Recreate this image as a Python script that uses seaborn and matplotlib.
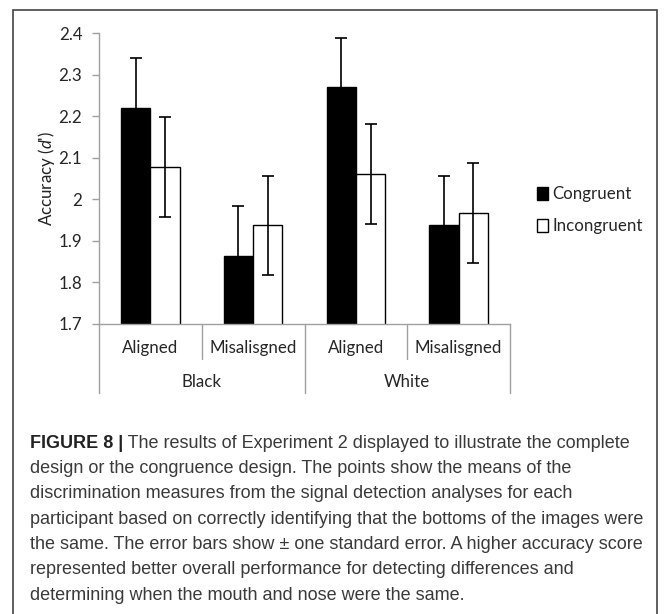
import pandas as pd
import numpy as np
import matplotlib
matplotlib.use("Agg")
import matplotlib.pyplot as plt
import seaborn as sns
from matplotlib.patches import Rectangle, Patch

# datos
grupos = ["Black", "Black", "White", "White"]
alineacion = ["Aligned", "Misalisgned", "Aligned", "Misalisgned"]
congruente = [2.219, 1.864, 2.269, 1.937]
incongruente = [2.077, 1.937, 2.061, 1.967]
err_congruente = [0.12, 0.12, 0.12, 0.12]
err_incongruente = [0.12, 0.12, 0.12, 0.12]
yticks = [1.7, 1.8, 1.9, 2.0, 2.1, 2.2, 2.3, 2.4]
ytick_labels = ["1.7", "1.8", "1.9", "2", "2.1", "2.2", "2.3", "2.4"]
condiciones = ["Congruent", "Incongruent"]

caption_bold = "FIGURE 8 |"
caption_lines = [
    " The results of Experiment 2 displayed to illustrate the complete",
    "design or the congruence design. The points show the means of the",
    "discrimination measures from the signal detection analyses for each",
    "participant based on correctly identifying that the bottoms of the images were",
    "the same. The error bars show \u00b1 one standard error. A higher accuracy score",
    "represented better overall performance for detecting differences and",
    "determining when the mouth and nose were the same.",
]

sns.set_style("white")
plt.rcParams['font.family'] = ['Lato', 'DejaVu Sans']
plt.rcParams['mathtext.fontset'] = 'custom'
plt.rcParams['mathtext.it'] = 'Lato:italic'
plt.rcParams['mathtext.rm'] = 'Lato'

fs = 12.2

celdas = [g + " " + a for g, a in zip(grupos, alineacion)]
df = pd.DataFrame({
    "celda": celdas * 2,
    "condicion": ["Congruent"] * 4 + ["Incongruent"] * 4,
    "valor": congruente + incongruente,
})

fig = plt.figure(figsize=(6.7, 6.14), dpi=100)
ax = fig.add_axes([99 / 670, 1 - 324 / 614, (510 - 99) / 670, (324 - 33) / 614])

sns.barplot(data=df, x="celda", y="valor", hue="condicion", order=celdas,
            hue_order=condiciones, palette={"Congruent": "black", "Incongruent": "white"},
            edgecolor="black", linewidth=1, width=0.57, errorbar=None, ax=ax, legend=False)

# barras de error
for cont, errs in zip(ax.containers, [err_congruente, err_incongruente]):
    xs = [p.get_x() + p.get_width() / 2 for p in cont]
    ys = [p.get_height() for p in cont]
    ax.errorbar(xs, ys, yerr=errs, fmt="none", ecolor="black", elinewidth=1.2,
                capsize=4, capthick=1.2)

ax.set_ylim(1.7, 2.4)
ax.set_xlim(-0.5, 3.5)
ax.set_yticks(yticks)
ax.set_yticklabels(ytick_labels, fontsize=fs)
ax.set_xticks([])
ax.set_xlabel("")
ax.set_ylabel(r"Accuracy ($d$')", fontsize=fs, color="#222222", labelpad=1)
ax.tick_params(axis="y", length=5, color="#a0a0a0", width=1, direction="out", pad=7, left=True)
for s in ["top", "right"]:
    ax.spines[s].set_visible(False)
for s in ["left", "bottom"]:
    ax.spines[s].set_color("#a0a0a0")
    ax.spines[s].set_linewidth(1)

# eje x jerarquico
tr = ax.get_xaxis_transform()
for i, lab in enumerate(alineacion):
    ax.text(i, -0.082, lab, transform=tr, ha="center", va="center", fontsize=fs)
for xb in [0.5, 2.5]:
    ax.plot([xb, xb], [0, -0.12], transform=tr, color="#a0a0a0", lw=1, clip_on=False)
for xb in [-0.5, 1.5, 3.5]:
    ax.plot([xb, xb], [0, -0.237], transform=tr, color="#a0a0a0", lw=1, clip_on=False)
for k, g in enumerate(["Black", "White"]):
    ax.text(2 * k + 0.5, -0.20, g, transform=tr, ha="center", va="center", fontsize=fs)

handles = [Patch(facecolor="black", edgecolor="black"),
           Patch(facecolor="white", edgecolor="black")]
fig.legend(handles, condiciones, loc="upper left", bbox_to_anchor=(522 / 670, 1 - 171 / 614),
           frameon=False, fontsize=fs, handlelength=0.65, handleheight=0.8,
           handletextpad=0.25, labelspacing=0.95)

# marco de la figura
fig.patches.append(Rectangle((13 / 670, -0.3), (657 - 13) / 670, 1.3 - 10 / 614,
                             transform=fig.transFigure, fill=False, edgecolor="#444444", lw=1.2))

# pie de figura
cap_font = ['Liberation Sans', 'DejaVu Sans']
x0 = 30 / 670
y0 = 1 - 443 / 614
dy = 25.4 / 614
t = fig.text(x0, y0, caption_bold, fontsize=13, fontweight="bold", family=cap_font,
             color="#222222", va="center")
fig.canvas.draw()
bb = t.get_window_extent(fig.canvas.get_renderer())
x1 = bb.x1 / fig.bbox.width
for i, line in enumerate(caption_lines):
    fig.text(x1 if i == 0 else x0, y0 - i * dy, line, fontsize=13, family=cap_font,
             color="#3a3a3a", va="center")

fig.savefig("out.png", dpi=100)
